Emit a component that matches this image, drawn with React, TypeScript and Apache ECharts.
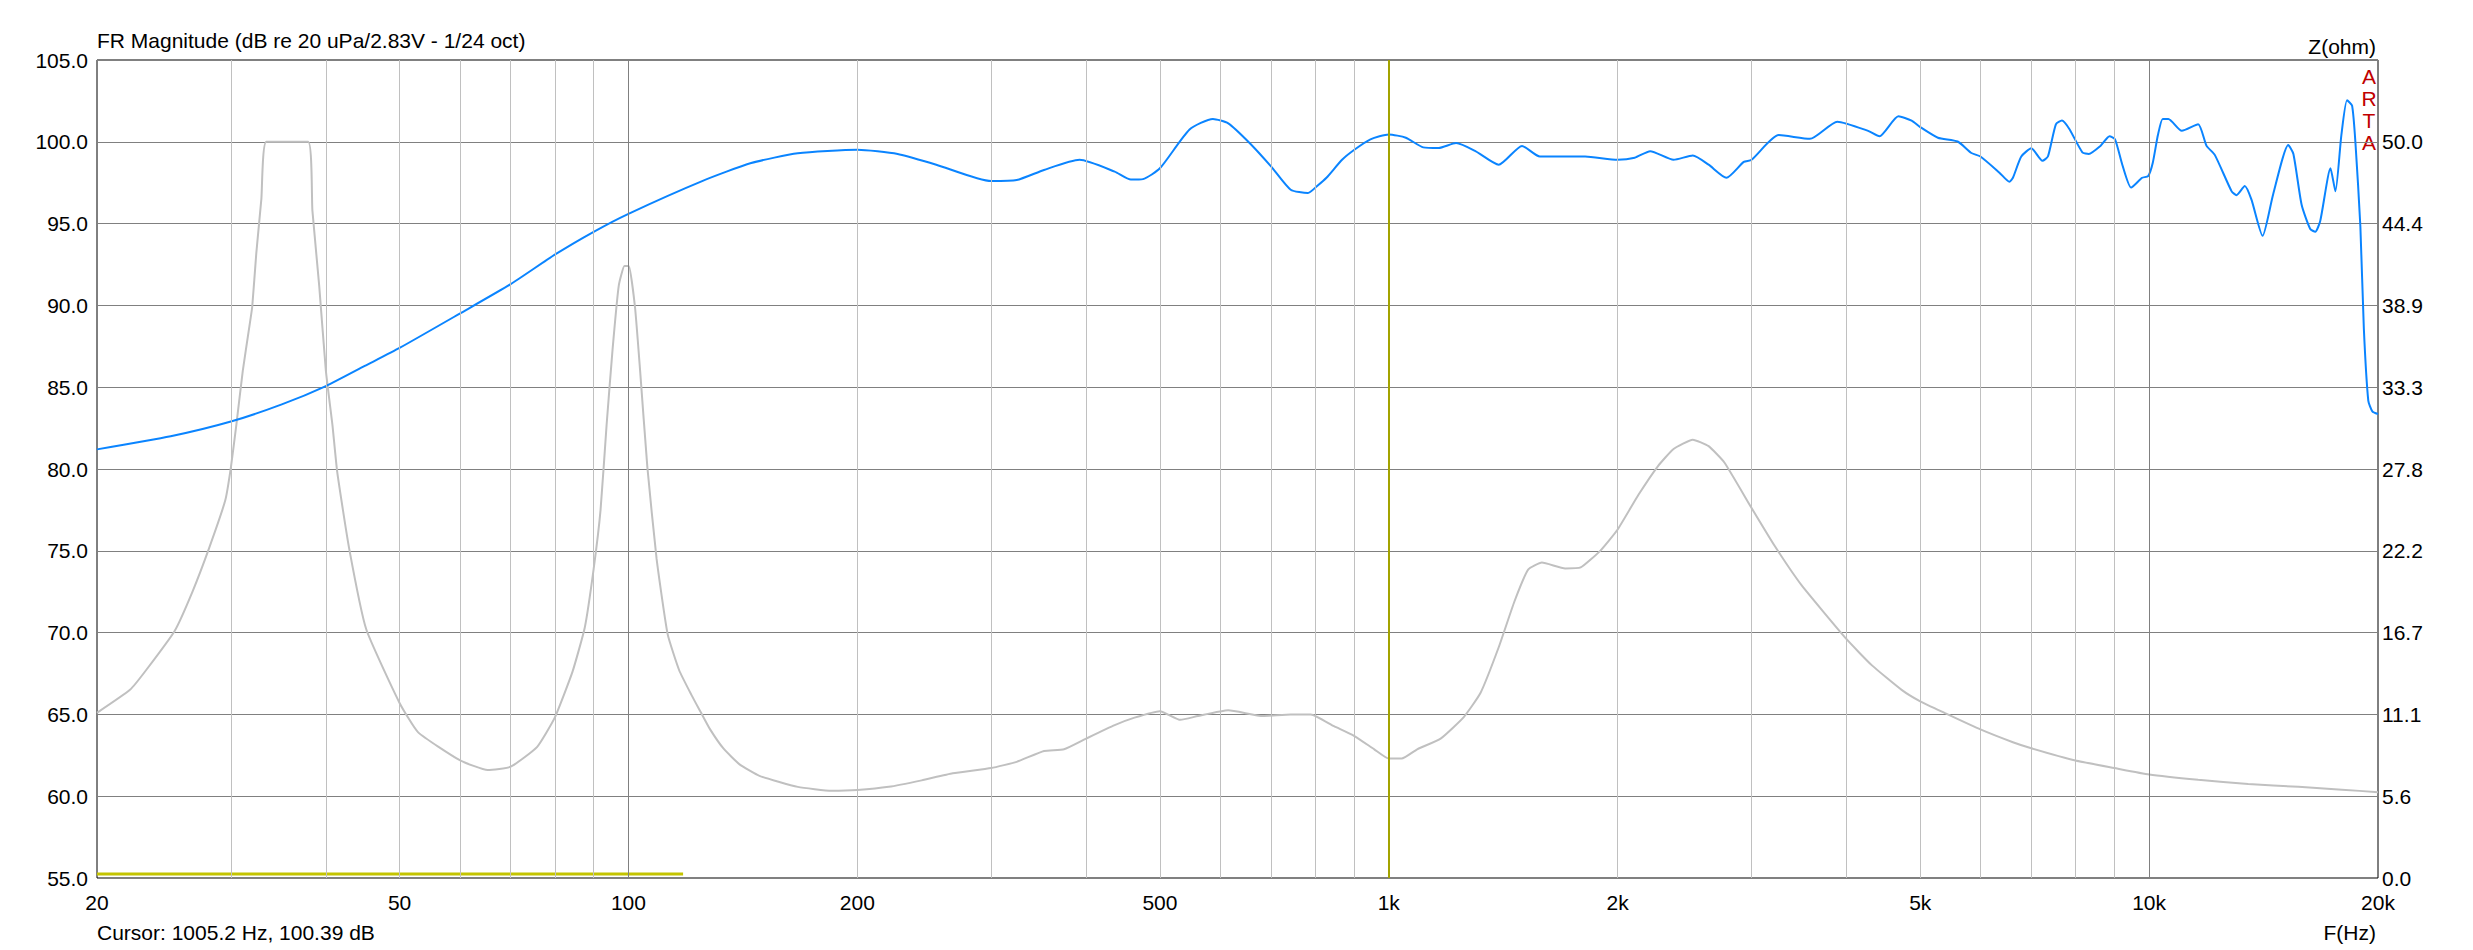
import { useEffect, useRef } from "react";
import * as echarts from "echarts";

// FR magnitude, dB (frequency Hz, level)
const frFreq = [
  20, 25, 30, 35, 40, 45, 50, 60, 70, 80, 90, 100, 125, 145, 167, 200, 226, 254, 300, 324, 352, 392,
  436, 458, 475, 500, 547, 587, 615, 656, 700, 743, 783, 805, 828, 868, 900, 946, 1000, 1053, 1110,
  1163, 1226, 1300, 1395, 1497, 1580, 1812, 2000, 2106, 2207, 2369, 2511, 2634, 2780, 2930, 3000,
  3257, 3580, 3890, 4270, 4420, 4680, 4871, 5000, 5275, 5600, 5830, 6000, 6360, 6550, 6620, 6790,
  7000, 7240, 7360, 7540, 7680, 7850, 8170, 8330, 8630, 8870, 9020, 9220, 9470, 9790, 9970, 10110,
  10270, 10420, 10600, 11040, 11600, 11900, 12200, 12840, 13030, 13360, 13630, 14100, 14560, 15240,
  15480, 15870, 16290, 16540, 16790, 17320, 17580, 17900, 18210, 18490, 18680, 18960, 19160, 19420,
  19660, 20000,
];
const frDb = [
  81.2, 82.0, 82.9, 83.95, 85.07, 86.3, 87.4, 89.5, 91.3, 93.1, 94.5, 95.6, 97.6, 98.7, 99.3,
  99.52, 99.26, 98.6, 97.6, 97.66, 98.28, 98.9, 98.18, 97.69, 97.72, 98.38, 100.75, 101.4, 101.13,
  99.93, 98.5, 97.07, 96.87, 97.3, 97.8, 98.9, 99.5, 100.15, 100.45, 100.25, 99.66, 99.62, 99.92,
  99.43, 98.6, 99.75, 99.1, 99.1, 98.9, 99.03, 99.43, 98.9, 99.16, 98.6, 97.8, 98.77, 98.9, 100.41,
  100.18, 101.23, 100.67, 100.34, 101.56, 101.3, 100.9, 100.25, 100.02, 99.33, 99.1, 98.1, 97.56,
  97.8, 99.1, 99.6, 98.84, 99.1, 101.07, 101.3, 100.8, 99.36, 99.26, 99.75, 100.34, 100.15, 98.6,
  97.2, 97.8, 97.9, 98.7, 100.41, 101.4, 101.4, 100.67, 101.07, 99.75, 99.2, 96.97, 96.74, 97.3,
  96.48, 94.25, 96.8, 99.8, 99.26, 96.15, 94.67, 94.5, 95.16, 98.38, 96.97, 100.41, 102.54, 102.21,
  99.93, 94.84, 88.6, 84.18, 83.52, 83.36,
];

// impedance, ohm
const zFreq = [
  20, 22.1, 23.2, 25.3, 26.7, 28.1, 29.5, 30, 30.5, 31.1, 31.7, 32.0, 32.4, 32.9, 33.4, 37.9, 38.4,
  39.2, 40, 40.8, 41.4, 42.9, 45.2, 50, 52.9, 60, 65.3, 70, 75.8, 80, 84.4, 87.6, 90, 91.9, 93.6,
  95.3, 97.1, 98.8, 100.1, 102.0, 103.6, 105.9, 108.9, 112.6, 116.6, 121, 124.6, 128, 133.4, 140,
  148.7, 167, 185, 200, 220, 243, 267, 300, 324, 352, 374, 400, 436, 463, 500, 532, 561, 615, 683,
  743, 790, 847, 900, 957, 1000, 1040, 1090, 1170, 1255, 1320, 1395, 1463, 1525, 1590, 1706, 1788,
  1897, 2000, 2131, 2260, 2369, 2511, 2634, 2763, 3000, 3217, 3490, 4000, 4320, 4726, 5000, 5380,
  6000, 6620, 7000, 8000, 9000, 10000, 11600, 13500, 15720, 17930, 20000,
];
const zOhm = [
  11.22, 12.78, 14.11, 16.78, 19.44, 22.44, 25.67, 27.89, 30.78, 34.44, 37.33, 38.78, 42.44, 46.11,
  50.0, 50.0, 45.33, 40.22, 34.44, 30.78, 27.56, 22.44, 16.89, 11.89, 9.89, 8.0, 7.33, 7.56, 8.89,
  10.89, 14.0, 17.0, 21.0, 25.0, 30.78, 35.89, 40.22, 41.56, 41.56, 38.78, 34.44, 27.89, 21.67,
  16.56, 14.11, 12.44, 11.22, 10.11, 8.78, 7.72, 6.94, 6.19, 5.93, 5.98, 6.19, 6.63, 7.11, 7.47,
  7.89, 8.63, 8.74, 9.47, 10.38, 10.89, 11.33, 10.74, 11.0, 11.39, 11.0, 11.11, 11.11, 10.31, 9.66,
  8.74, 8.11, 8.11, 8.74, 9.47, 10.93, 12.56, 15.67, 18.78, 20.94, 21.42, 21.02, 21.09, 22.22,
  23.67, 26.04, 27.98, 29.14, 29.77, 29.33, 28.22, 25.13, 22.56, 19.89, 16.22, 14.44, 12.78, 12.0,
  11.22, 10.09, 9.22, 8.81, 7.98, 7.47, 7.03, 6.67, 6.38, 6.19, 6.0, 5.83,
];

// yellow trace along the bottom
const lowFreq = [20, 118];
const lowDb = [55.25, 55.25];

const xTicks = [20, 50, 100, 200, 500, 1000, 2000, 5000, 10000, 20000];
const minorGrid = [
  30, 40, 50, 60, 70, 80, 90, 200, 300, 400, 500, 600, 700, 800, 900, 2000, 3000, 4000, 5000, 6000,
  7000, 8000, 9000,
];
const majorGrid = [100, 10000];
const cursorFreq = 1000;

const font = "Liberation Sans, Arial, sans-serif";

export default function App() {
  const chartRef = useRef<HTMLDivElement>(null);

  useEffect(() => {
    if (!chartRef.current) return;
    const chart = echarts.init(chartRef.current, null, { renderer: "svg" });

    const gridLines = [
      ...minorGrid.map((f) => ({ xAxis: f, lineStyle: { color: "#c0c0c0", width: 1, type: "solid" } })),
      ...majorGrid.map((f) => ({ xAxis: f, lineStyle: { color: "#808080", width: 1, type: "solid" } })),
      { xAxis: cursorFreq, lineStyle: { color: "#a3a300", width: 2, type: "solid" } },
    ];

    const option: echarts.EChartsOption = {
      animation: false,
      backgroundColor: "#fff",
      textStyle: { fontFamily: font },
      grid: {
        left: 97,
        right: 95,
        top: 60,
        bottom: 72,
        show: true,
        borderColor: "#000",
        borderWidth: 1,
        backgroundColor: "transparent",
      },
      xAxis: {
        type: "log",
        logBase: 10,
        min: 20,
        max: 20000,
        axisLine: { show: false },
        axisTick: { show: false },
        splitLine: { show: false },
        axisLabel: {
          customValues: xTicks,
          color: "#000",
          fontSize: 21,
          fontFamily: font,
          margin: 14,
          showMinLabel: true,
          showMaxLabel: true,
          formatter: (v: number) => (v >= 1000 ? `${Math.round(v / 1000)}k` : `${Math.round(v)}`),
        },
      },
      yAxis: [
        {
          type: "value",
          min: 55,
          max: 105,
          interval: 5,
          axisLine: { show: false },
          axisTick: { show: false },
          splitLine: { show: true, lineStyle: { color: "#808080", width: 1 } },
          axisLabel: {
            color: "#000",
            fontSize: 21,
            fontFamily: font,
            margin: 9,
            formatter: (v: number) => v.toFixed(1),
          },
        },
        {
          type: "value",
          min: 0,
          max: 500 / 9,
          interval: 50 / 9,
          position: "right",
          axisLine: { show: false },
          axisTick: { show: false },
          splitLine: { show: false },
          axisLabel: {
            color: "#000",
            fontSize: 21,
            fontFamily: font,
            margin: 4,
            formatter: (v: number) => (v > 55 ? "" : v.toFixed(1)),
          },
        },
      ],
      graphic: [
        {
          type: "text",
          left: 97,
          top: 30,
          style: { text: "FR Magnitude (dB re 20 uPa/2.83V - 1/24 oct)", fill: "#000", font: `21px ${font}` },
        },
        {
          type: "text",
          right: 97,
          top: 36,
          style: { text: "Z(ohm)", fill: "#000", font: `21px ${font}` },
        },
        {
          type: "text",
          left: 97,
          top: 922,
          style: { text: "Cursor: 1005.2 Hz, 100.39 dB", fill: "#000", font: `21px ${font}` },
        },
        {
          type: "text",
          right: 97,
          top: 922,
          style: { text: "F(Hz)", fill: "#000", font: `21px ${font}` },
        },
        ...["A", "R", "T", "A"].map((ch, i) => ({
          type: "text" as const,
          x: 2369,
          y: 76 + i * 22,
          style: {
            text: ch,
            fill: "#c00000",
            font: `21px ${font}`,
            align: "center" as const,
            verticalAlign: "middle" as const,
          },
        })),
      ],
      series: [
        {
          name: "low",
          type: "line",
          data: lowFreq.map((f, i) => [f, lowDb[i]]),
          showSymbol: false,
          lineStyle: { color: "#c4c400", width: 3 },
          silent: true,
          markLine: {
            silent: true,
            symbol: "none",
            label: { show: false },
            data: gridLines as any,
          },
        },
        {
          name: "Impedance",
          type: "line",
          yAxisIndex: 1,
          data: zFreq.map((f, i) => [f, zOhm[i]]),
          showSymbol: false,
          smooth: 0.15,
          lineStyle: { color: "#c0c0c0", width: 2 },
          silent: true,
        },
        {
          name: "FR",
          type: "line",
          data: frFreq.map((f, i) => [f, frDb[i]]),
          showSymbol: false,
          smooth: 0.2,
          lineStyle: { color: "#0a84ff", width: 2 },
          silent: true,
        },
      ],
    };

    chart.setOption(option);
    return () => chart.dispose();
  }, []);

  return (
    <div
      ref={chartRef}
      style={{ position: "fixed", left: 0, top: 0, width: "2473px", height: "950px", background: "#fff" }}
    />
  );
}
